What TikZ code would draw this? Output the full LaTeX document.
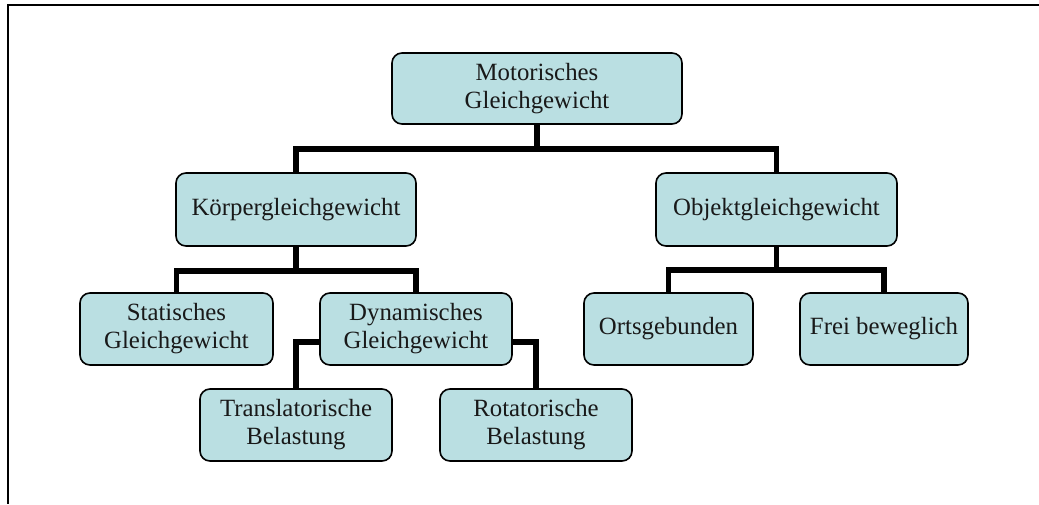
\documentclass[tikz,border=0pt]{standalone}
\usepackage{fontspec}
\setmainfont{Liberation Serif}
\definecolor{boxfill}{HTML}{BADFE2}
\begin{document}
\begin{tikzpicture}[x=1pt,y=-1pt,
  box/.style={draw=black, line width=1.6pt, fill=boxfill, rounded corners=10pt,
    align=center, inner sep=0pt, font=\fontsize{24.8}{28}\selectfont, text=black!90},
  conn/.style={draw=black, line width=5.5pt, line join=miter}]
\useasboundingbox (0,0) rectangle (1039,504);
\draw[line width=2pt] (1039,5) -- (8,5) -- (8,504);
% nodes
\node[box, minimum width=290pt, minimum height=71pt] (mot) at (537,88.5) {Motorisches\\Gleichgewicht};
\node[box, minimum width=240pt, minimum height=73pt] (koerper) at (296,209.5) {Körpergleichgewicht};
\node[box, minimum width=241pt, minimum height=73pt] (objekt) at (776.5,209.5) {Objektgleichgewicht};
\node[box, minimum width=193pt, minimum height=72pt] (stat) at (176.5,329) {Statisches\\Gleichgewicht};
\node[box, minimum width=192pt, minimum height=72pt] (dyn) at (416,329) {Dynamisches\\Gleichgewicht};
\node[box, minimum width=192pt, minimum height=72pt] (trans) at (296,425) {Translatorische\\Belastung};
\node[box, minimum width=192pt, minimum height=72pt] (rot) at (536,425) {Rotatorische\\Belastung};
\node[box, minimum width=169pt, minimum height=72pt] (orts) at (668.5,329) {Ortsgebunden};
\node[box, minimum width=168pt, minimum height=72pt] (frei) at (884,329) {Frei beweglich};
% connectors
\draw[conn] (mot.south) -- (mot.south |- 0,149);
\draw[conn] (koerper.north) -- (koerper.north |- 0,149) -- (objekt.north |- 0,149) -- (objekt.north);
\draw[conn] (koerper.south) -- (koerper.south |- 0,271);
\draw[conn] (stat.north) -- (stat.north |- 0,271) -- (dyn.north |- 0,271) -- (dyn.north);
\draw[conn] (objekt.south) -- (objekt.south |- 0,270);
\draw[conn] (orts.north) -- (orts.north |- 0,270) -- (frei.north |- 0,270) -- (frei.north);
\draw[conn] (dyn.west |- 0,342) -- (trans.north |- 0,342) -- (trans.north);
\draw[conn] (dyn.east |- 0,342) -- (rot.north |- 0,342) -- (rot.north);
\end{tikzpicture}
\end{document}
